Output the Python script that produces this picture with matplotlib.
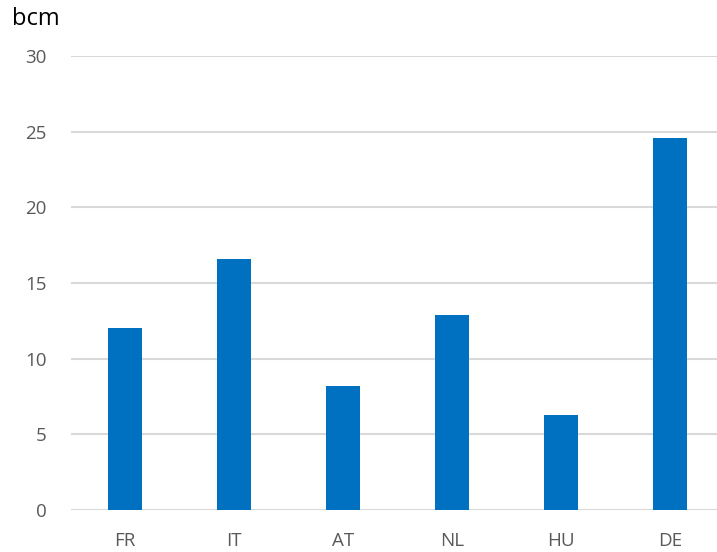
import matplotlib
matplotlib.use("Agg")
import matplotlib.pyplot as plt

countries = ["FR", "IT", "AT", "NL", "HU", "DE"]
volumes = [12.0, 16.6, 8.2, 12.9, 6.3, 24.6]
y_ticks = [0, 5, 10, 15, 20, 25, 30]

plt.rcParams['font.family'] = ['Open Sans', 'DejaVu Sans']

fig = plt.figure(figsize=(7.17, 5.52), dpi=100)
ax = fig.add_axes([70.5 / 717, 42 / 552, 654 / 717, 454 / 552])

x = range(len(countries))
ax.bar(x, volumes, width=0.31, color="#0070C0", zorder=3)

ax.set_xlim(-0.5, len(countries) - 0.5)
ax.set_ylim(0, 30)
ax.set_yticks(y_ticks)
ax.set_xticks(list(x))
ax.set_xticklabels(countries)

ax.grid(axis="y", color="#d9d9d9", linewidth=1.5, zorder=0)
for s in ax.spines.values():
    s.set_visible(False)
ax.tick_params(axis="both", length=0, labelsize=13.5, colors="#595959")
ax.tick_params(axis="y", pad=17)
ax.tick_params(axis="x", pad=16)

fig.text(12 / 717, 1 - 19 / 552, "bcm", fontsize=17, color="black",
         ha="left", va="center")

fig.savefig("out.png", dpi=100)
